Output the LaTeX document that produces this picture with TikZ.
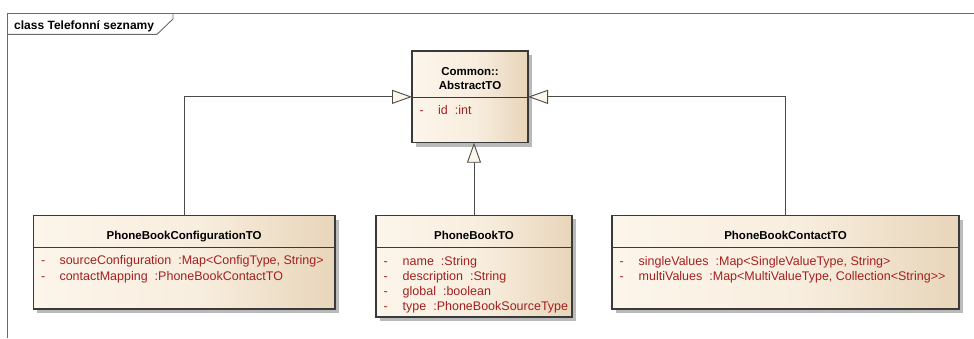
\documentclass[tikz,border=0pt]{standalone}
\usepackage{fontspec}
\setmainfont{Liberation Sans}
\usetikzlibrary{arrows.meta,shadows}

\definecolor{frameline}{HTML}{6A6A6A}
\definecolor{boxline}{HTML}{3A3A3A}
\definecolor{connline}{HTML}{4A4A4A}
\definecolor{attrred}{HTML}{A3201F}
\definecolor{creamL}{HTML}{FCF5EA}
\definecolor{creamM}{HTML}{F8EEDF}
\definecolor{creamR}{HTML}{E8D5BA}

% class body fill: light on the left, tan towards the right edge
\pgfdeclarehorizontalshading{classfill}{100bp}{color(0bp)=(creamL); color(25bp)=(creamL); color(52bp)=(creamM); color(75bp)=(creamR); color(100bp)=(creamR)}

% gap between an attribute name and its type
\newcommand{\attrgap}{\hspace{7pt}}

\tikzset{
  classbox/.style={draw=boxline, line width=1.2pt, shading=classfill,
    drop shadow={shadow xshift=4pt, shadow yshift=-4pt, fill=black!27, opacity=1},
    inner sep=0pt, outer sep=0pt},
  sepline/.style={draw=boxline, line width=0.9pt},
  hdr/.style={font=\bfseries\fontsize{11.5}{14}\selectfont, inner sep=0pt, anchor=base, align=center},
  attr/.style={font=\fontsize{12.5}{14}\selectfont, text=attrred, inner sep=0pt, anchor=base west},
  gen/.style={draw=connline, line width=0.9pt,
    -{Triangle[length=20pt, width=14pt, fill=creamL]}},
  frame/.style={draw=frameline, line width=0.9pt},
}

\begin{document}
\begin{tikzpicture}[x=1pt, y=-1pt]
\useasboundingbox (0,0) rectangle (974,338);

% diagram frame and its name tab
\draw[frame] (7.7,338) -- (7.7,13) -- (974,13);
\draw[frame] (7.7,34.3) -- (157,34.3) -- (173,19) -- (173,13);
\node[font=\bfseries\fontsize{12}{14}\selectfont, inner sep=0pt, anchor=base west] (title) at (14,29.5) {class Telefonní seznamy};

% class boxes
\node[classbox, minimum width=116pt, minimum height=91.7pt] (abs) at (470,96.85) {};
\node[classbox, minimum width=301.7pt, minimum height=93.3pt] (cfg) at (184.15,262.35) {};
\node[classbox, minimum width=196pt, minimum height=101.7pt] (pb) at (474,266.15) {};
\node[classbox, minimum width=347pt, minimum height=93.3pt] (con) at (785.5,262.35) {};

% compartment separators
\draw[sepline] (412,97.3) -- (528,97.3);
\draw[sepline] (33.3,247.3) -- (335,247.3);
\draw[sepline] (376,247.7) -- (572,247.7);
\draw[sepline] (612,247.7) -- (959,247.7);

% class names
\node[hdr] (absname) at (470,89) {Common::\\AbstractTO};
\node[hdr] (cfgname) at (184.15,239) {PhoneBookConfigurationTO};
\node[hdr] (pbname) at (474,239.3) {PhoneBookTO};
\node[hdr] (conname) at (785.5,239.3) {PhoneBookContactTO};

% attributes
\node[attr] (absd1) at (419.5,114.3) {-};
\node[attr] (absa1) at (438,114.3) {id\attrgap:int};

\node[attr] (cfgd1) at (40.8,264.8) {-};
\node[attr] (cfga1) at (59.3,264.8) {sourceConfiguration\attrgap:Map<ConfigType, String>};
\node[attr] (cfgd2) at (40.8,280.1) {-};
\node[attr] (cfga2) at (59.3,280.1) {contactMapping\attrgap:PhoneBookContactTO};

\node[attr] (pbd1) at (383.5,265) {-};
\node[attr] (pba1) at (402.5,265) {name\attrgap:String};
\node[attr] (pbd2) at (383.5,280.3) {-};
\node[attr] (pba2) at (402.5,280.3) {description\attrgap:String};
\node[attr] (pbd3) at (383.5,295.6) {-};
\node[attr] (pba3) at (402.5,295.6) {global\attrgap:boolean};
\node[attr] (pbd4) at (383.5,310.9) {-};
\node[attr] (pba4) at (402.5,310.9) {type\attrgap:PhoneBookSourceType};

\node[attr] (cond1) at (619.5,265) {-};
\node[attr] (cona1) at (638.5,265) {singleValues\attrgap:Map<SingleValueType, String>};
\node[attr] (cond2) at (619.5,280.3) {-};
\node[attr] (cona2) at (638.5,280.3) {multiValues\attrgap:Map<MultiValueType, Collection<String>{}>};

% generalizations
\draw[gen] (cfg.north) |- (abs.west);
\draw[gen] (con.north) |- (abs.east);
\draw[gen] (pb.north) -- (pb.north |- abs.south);
\end{tikzpicture}
\end{document}
